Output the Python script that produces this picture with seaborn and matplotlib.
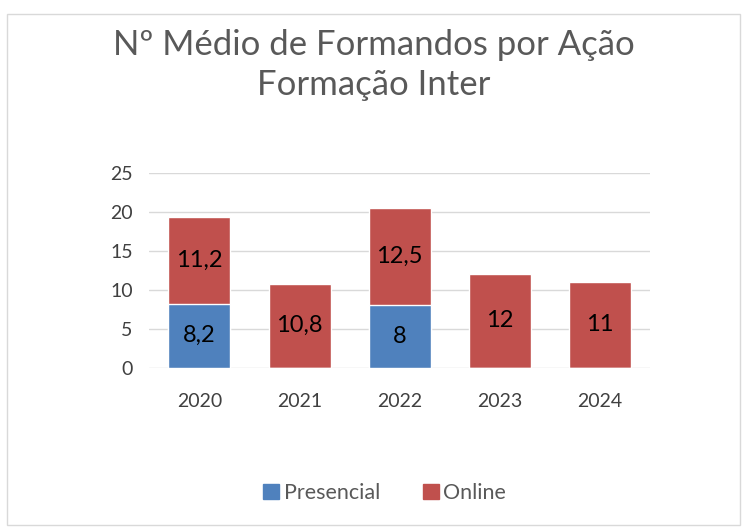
import pandas as pd
import matplotlib.pyplot as plt
import seaborn as sns
from matplotlib.patches import Rectangle

# --- dados ---
ANOS = ['2020', '2021', '2022', '2023', '2024']
PRESENCIAL = [8.2, 0, 8, 0, 0]
ONLINE = [11.2, 10.8, 12.5, 12, 11]

AZUL = '#4f81bd'
VERMELHO = '#c0504d'

df = pd.DataFrame({'ano': ANOS, 'presencial': PRESENCIAL, 'online': ONLINE})
df['total'] = df['presencial'] + df['online']

sns.set_theme(style='white')
plt.rcParams['font.family'] = ['Lato', 'DejaVu Sans']

fig = plt.figure(figsize=(7.47, 5.29), dpi=100)
ax = fig.add_axes([0.2, 0.305, 0.67, 0.368])

# barras empilhadas: total (online) por baixo, presencial por cima
sns.barplot(data=df, x='ano', y='total', color=VERMELHO, width=0.62,
            saturation=1, ax=ax, zorder=2)
sns.barplot(data=df, x='ano', y='presencial', color=AZUL, width=0.62,
            saturation=1, ax=ax, zorder=3)

def fmt(v):
    return f'{v:g}'.replace('.', ',')

for i, row in df.iterrows():
    if row['presencial'] > 0:
        ax.text(i, row['presencial'] / 2, fmt(row['presencial']), ha='center',
                va='center', fontsize=17, color='black', zorder=4)
    ax.text(i, row['presencial'] + row['online'] / 2, fmt(row['online']),
            ha='center', va='center', fontsize=17, color='black', zorder=4)

ax.set_ylim(0, 25)
ax.set_yticks(range(0, 26, 5))
ax.yaxis.grid(True, color='#d9d9d9', linewidth=1, zorder=0)
ax.set_axisbelow(True)
for s in ax.spines.values():
    s.set_visible(False)
ax.set_xlabel('')
ax.set_ylabel('')
ax.tick_params(axis='both', colors='#404040', labelsize=14, length=0, pad=12)
ax.tick_params(axis='x', pad=18)

fig.suptitle('Nº Médio de Formandos por Ação\nFormação Inter', y=0.945,
             fontsize=25, color='#595959', linespacing=1.3)

handles = [Rectangle((0, 0), 1, 1, color=AZUL), Rectangle((0, 0), 1, 1, color=VERMELHO)]
fig.legend(handles, ['Presencial', 'Online'], loc='center', bbox_to_anchor=(0.515, 0.068),
           ncol=2, frameon=False, fontsize=15.5, handlelength=0.75, handleheight=0.75,
           handletextpad=0.2, columnspacing=2.0, labelcolor='#595959')

# moldura do gráfico
fig.patches.append(Rectangle((0.009, 0.008), 0.982, 0.966, transform=fig.transFigure,
                             fill=False, edgecolor='#d9d9d9', linewidth=1))

fig.savefig('out.png', dpi=100)
